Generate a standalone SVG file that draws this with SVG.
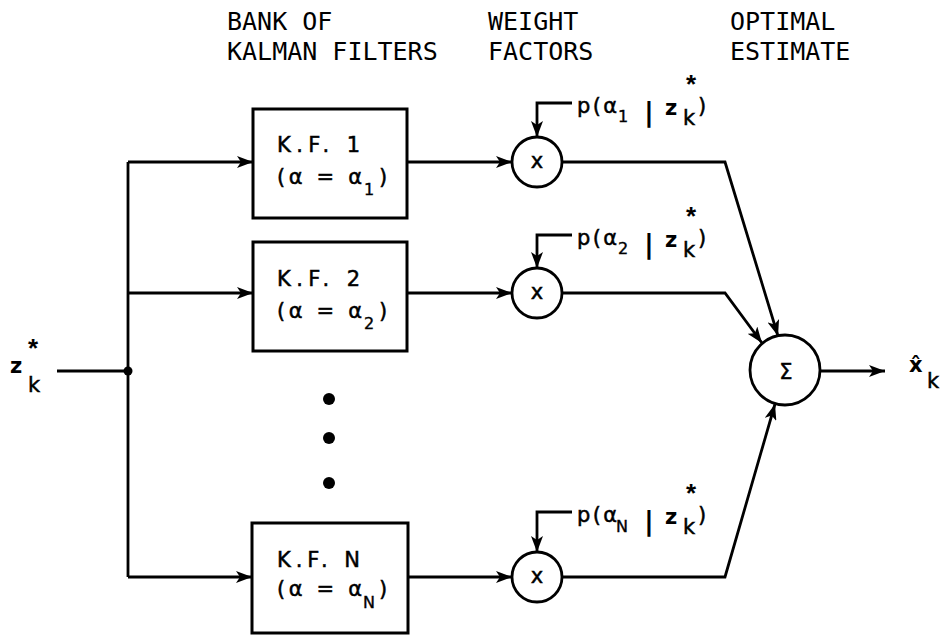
<svg xmlns="http://www.w3.org/2000/svg" width="946" height="635" viewBox="0 0 946 635">
<style>
.ln{fill:none;stroke:#000;stroke-width:2.8;stroke-linejoin:miter}
.bx{fill:#fff;stroke:#000;stroke-width:3}
.cr{fill:#fff;stroke:#000;stroke-width:2.8}
.hd{font-family:"DejaVu Sans Mono",monospace;font-size:25px;fill:#000}
.t{font-family:"DejaVu Sans","Liberation Sans",sans-serif;font-size:21px;fill:#000;stroke:#000;stroke-width:0.5}
.s{font-family:"DejaVu Sans","Liberation Sans",sans-serif;font-size:16px;fill:#000;stroke:#000;stroke-width:0.4}
.b{font-family:"DejaVu Sans","Liberation Sans",sans-serif;font-size:21px;font-weight:bold;fill:#000}
.bar{font-family:"DejaVu Sans","Liberation Sans",sans-serif;font-size:27px;font-weight:bold;fill:#000}
.st{font-family:"Liberation Sans",Arial,sans-serif;font-size:26px;font-weight:bold;fill:#000}
</style>
<defs>
<marker id="ah" markerUnits="userSpaceOnUse" markerWidth="18" markerHeight="12" refX="16" refY="6" orient="auto">
<path d="M0,0 L16,6 L0,12 L4,6 Z" fill="#000"/>
</marker>
</defs>
<rect width="946" height="635" fill="#fff"/>

<g id="headers">
<text class="hd" x="227" y="30">BANK OF</text>
<text class="hd" x="227" y="60">KALMAN FILTERS</text>
<text class="hd" x="488" y="30">WEIGHT</text>
<text class="hd" x="488" y="60">FACTORS</text>
<text class="hd" x="730" y="30">OPTIMAL</text>
<text class="hd" x="730" y="60">ESTIMATE</text>
</g>

<g id="connectors">
<path class="ln" d="M57,371 H128"/>
<path class="ln" d="M128,162 V577"/>
<circle cx="128" cy="371" r="4.5" fill="#000"/>
<path class="ln" d="M128,162 H253" marker-end="url(#ah)"/>
<path class="ln" d="M128,293 H253" marker-end="url(#ah)"/>
<path class="ln" d="M128,577 H252" marker-end="url(#ah)"/>
<path class="ln" d="M407,162 H512" marker-end="url(#ah)"/>
<path class="ln" d="M407,293 H512" marker-end="url(#ah)"/>
<path class="ln" d="M408,577 H512" marker-end="url(#ah)"/>
<path class="ln" d="M572,103 H537 V137" marker-end="url(#ah)"/>
<path class="ln" d="M572,235 H537 V268" marker-end="url(#ah)"/>
<path class="ln" d="M572,512 H537 V552" marker-end="url(#ah)"/>
<path class="ln" d="M562,162 H725 L778,336" marker-end="url(#ah)"/>
<path class="ln" d="M562,293 H725 L762,343" marker-end="url(#ah)"/>
<path class="ln" d="M562,577 H725 L775,404" marker-end="url(#ah)"/>
<path class="ln" d="M820,371 H885" marker-end="url(#ah)"/>
</g>

<g id="input">
<text class="b" x="10" y="373" font-size="22">z</text>
<text class="t" x="28" y="392" font-size="20">k</text>
<text class="st" x="28" y="357">*</text>
</g>

<g id="kf1">
<rect class="bx" x="253" y="109" width="154" height="109"/>
<text class="t" x="277" y="152" textLength="83" lengthAdjust="spacing">K.F. 1</text>
<text class="t" x="277" y="184" textLength="85" lengthAdjust="spacing">(α = α</text>
<text class="s" x="364" y="195">1</text>
<text class="t" x="379" y="184">)</text>
</g>

<g id="kf2">
<rect class="bx" x="253" y="242" width="154" height="109"/>
<text class="t" x="277" y="286" textLength="83" lengthAdjust="spacing">K.F. 2</text>
<text class="t" x="277" y="318" textLength="85" lengthAdjust="spacing">(α = α</text>
<text class="s" x="364" y="329">2</text>
<text class="t" x="379" y="318">)</text>
</g>

<g id="ellipsis">
<circle cx="329" cy="399" r="6" fill="#000"/>
<circle cx="329" cy="438" r="6" fill="#000"/>
<circle cx="329" cy="483" r="6" fill="#000"/>
</g>

<g id="kfN">
<rect class="bx" x="252" y="523" width="156" height="110"/>
<text class="t" x="277" y="567" textLength="83" lengthAdjust="spacing">K.F. N</text>
<text class="t" x="277" y="596" textLength="85" lengthAdjust="spacing">(α = α</text>
<text class="s" x="363" y="608">N</text>
<text class="t" x="379" y="596">)</text>
</g>

<g id="mult1">
<circle class="cr" cx="537" cy="162" r="25"/>
<text class="t" x="537" y="168" text-anchor="middle" font-size="20">x</text>
</g>
<g id="weight1">
<text class="t" x="577" y="113" textLength="40" lengthAdjust="spacing">p(α</text>
<text class="s" x="618" y="122">1</text>
<text class="bar" x="644" y="121">|</text>
<text class="b" x="665" y="115" font-size="20">z</text>
<text class="t" x="683" y="125" font-size="18">k</text>
<text class="st" x="686" y="93">*</text>
<text class="t" x="698" y="113">)</text>
</g>

<g id="mult2">
<circle class="cr" cx="537" cy="293" r="25"/>
<text class="t" x="537" y="299" text-anchor="middle" font-size="20">x</text>
</g>
<g id="weight2">
<text class="t" x="577" y="245" textLength="40" lengthAdjust="spacing">p(α</text>
<text class="s" x="618" y="254">2</text>
<text class="bar" x="644" y="253">|</text>
<text class="b" x="665" y="247" font-size="20">z</text>
<text class="t" x="683" y="257" font-size="18">k</text>
<text class="st" x="686" y="225">*</text>
<text class="t" x="698" y="245">)</text>
</g>

<g id="multN">
<circle class="cr" cx="537" cy="577" r="25"/>
<text class="t" x="537" y="583" text-anchor="middle" font-size="20">x</text>
</g>
<g id="weightN">
<text class="t" x="577" y="522" textLength="40" lengthAdjust="spacing">p(α</text>
<text class="s" x="616" y="532">N</text>
<text class="bar" x="644" y="530">|</text>
<text class="b" x="665" y="524" font-size="20">z</text>
<text class="t" x="683" y="534" font-size="18">k</text>
<text class="st" x="686" y="502">*</text>
<text class="t" x="698" y="522">)</text>
</g>

<g id="sum">
<circle class="cr" cx="785" cy="370" r="35"/>
<text class="t" x="786" y="379" text-anchor="middle" font-size="18">Σ</text>
</g>

<g id="output">
<text class="b" x="909" y="372" font-size="20">x̂</text>
<text class="t" x="927" y="388" font-size="20">k</text>
</g>
</svg>
